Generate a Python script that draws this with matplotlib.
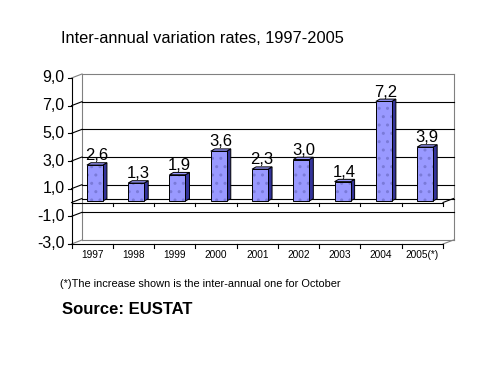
import numpy as np
import matplotlib
matplotlib.use("Agg")
import matplotlib.pyplot as plt
from matplotlib.patches import Polygon
from matplotlib.transforms import IdentityTransform

plt.rcParams['font.family'] = ['Liberation Sans', 'DejaVu Sans']

# donnees
years = ['1997', '1998', '1999', '2000', '2001', '2002', '2003', '2004', '2005(*)']
rates = [2.6, 1.3, 1.9, 3.6, 2.3, 3.0, 1.4, 7.2, 3.9]
yticks = [-3, -1, 1, 3, 5, 7, 9]
ytick_labels = ['-3,0', '-1,0', '1,0', '3,0', '5,0', '7,0', '9,0']

title = 'Inter-annual variation rates, 1997-2005'
note = '(*)The increase shown is the inter-annual one for October'
source = 'Source: EUSTAT'

W, H = 487, 387
fig = plt.figure(figsize=(W / 100, H / 100), dpi=100)
fig.patch.set_facecolor('white')

# axe "avant" : x 0..9 -> px 71.5..443, y -3..9 -> px 244..78
left_px, right_px, top_px, bot_px = 71.5, 443.0, 78.0, 244.0
ax = fig.add_axes([left_px / W, 1 - bot_px / H, (right_px - left_px) / W, (bot_px - top_px) / H])
ax.set_xlim(0, 9)
ax.set_ylim(-3, 9)
ax.axis('off')

n = len(years)
BACK = (10.5, 4.0)     # decalage du mur du fond (px)
BAR_SHIFT = (2.8, 1.5)  # position des barres dans la profondeur
DEPTH = (4.0, 2.3)      # epaisseur des barres
GRAY = '#808080'


def pt(x, y, dx=0.0, dy=0.0):
    px, py = ax.transData.transform((x, y))
    return (px + dx, py + dy)


def seg(p, q, color='black', lw=0.8, z=2):
    l = plt.Line2D([p[0], q[0]], [p[1], q[1]], color=color, lw=lw,
                   transform=IdentityTransform(), zorder=z, antialiased=True)
    fig.add_artist(l)


# mur du fond
seg(pt(0, -3, *BACK), pt(0, 9, *BACK), GRAY)
seg(pt(0, 9, *BACK), pt(n, 9, *BACK), GRAY)
seg(pt(n, 9, *BACK), pt(n, -3, *BACK), GRAY)
seg(pt(0, -3, *BACK), pt(n, -3, *BACK), GRAY)
seg(pt(n, -3), pt(n, -3, *BACK), GRAY)
seg(pt(0, 9), pt(0, 9, *BACK), GRAY)
seg(pt(0, -3), pt(0, -3, *BACK), GRAY)

# grille
for v in [-1, 1, 3, 5, 7]:
    seg(pt(0, v), pt(0, v, *BACK))
    seg(pt(0, v, *BACK), pt(n, v, *BACK))

# plan du zero
seg(pt(0, 0), pt(0, 0, *BACK))
seg(pt(0, 0, *BACK), pt(n, 0, *BACK))
seg(pt(n, 0), pt(n, 0, *BACK))

# barres 3D
w = 16 / ((right_px - left_px) / n)
face_c = '#9999FF'
side_c = '#333399'
top_c = '#9999FF'
for i, v in enumerate(rates):
    x0 = i + 0.5 - w / 2
    x1 = x0 + w
    a = pt(x0, 0, *BAR_SHIFT)
    b = pt(x1, 0, *BAR_SHIFT)
    c = pt(x1, v, *BAR_SHIFT)
    d = pt(x0, v, *BAR_SHIFT)
    dx, dy = DEPTH
    side = [b, (b[0] + dx, b[1] + dy), (c[0] + dx, c[1] + dy), c]
    top = [d, c, (c[0] + dx, c[1] + dy), (d[0] + dx, d[1] + dy)]
    fig.add_artist(Polygon(side, closed=True, facecolor=side_c, edgecolor='black',
                           lw=0.7, transform=IdentityTransform(), zorder=3))
    fig.add_artist(Polygon(top, closed=True, facecolor=top_c, edgecolor='black',
                           lw=0.7, transform=IdentityTransform(), zorder=3))
    fig.add_artist(Polygon([a, b, c, d], closed=True, facecolor=face_c, edgecolor='#7A7AD8',
                           hatch='..', lw=0, transform=IdentityTransform(), zorder=3))
    fig.add_artist(Polygon([a, b, c, d], closed=True, facecolor='none', edgecolor='black',
                           lw=0.7, transform=IdentityTransform(), zorder=3.1))
    lx = (a[0] + b[0]) / 2 + 2
    ly = max(c[1], 0) + dy + 2.5
    fig.text(lx / W, ly / H, f'{v:.1f}'.replace('.', ','), ha='center', va='baseline',
             fontsize=12, color='black', zorder=4)

# axes avant
seg(pt(0, -3), pt(0, 9), z=4)
seg(pt(0, -3), pt(n, -3), z=4)
seg(pt(0, 0), pt(n, 0), z=4)
for v, lab in zip(yticks, ytick_labels):
    p = pt(0, v)
    seg((p[0] - 4, p[1]), p, z=4)
    fig.text((p[0] - 7) / W, p[1] / H, lab, ha='right', va='center', fontsize=11.5)
for i in range(n + 1):
    p = pt(i, -3)
    seg(p, (p[0], p[1] - 4), z=4)
    q = pt(i, 0)
    seg(q, (q[0], q[1] - 3), z=4)
for i, lab in enumerate(years):
    p = pt(i + 0.5, -3)
    fig.text(p[0] / W, (p[1] - 11) / H, lab, ha='center', va='center', fontsize=7.3)

# textes
fig.text(61 / W, 1 - 38.5 / H, title, ha='left', va='center', fontsize=11.8)
fig.text(60 / W, 1 - 284 / H, note, ha='left', va='center', fontsize=7.9)
fig.text(62 / W, 1 - 309 / H, source, ha='left', va='center', fontsize=12, fontweight='bold')

fig.savefig('out.png', dpi=100)
